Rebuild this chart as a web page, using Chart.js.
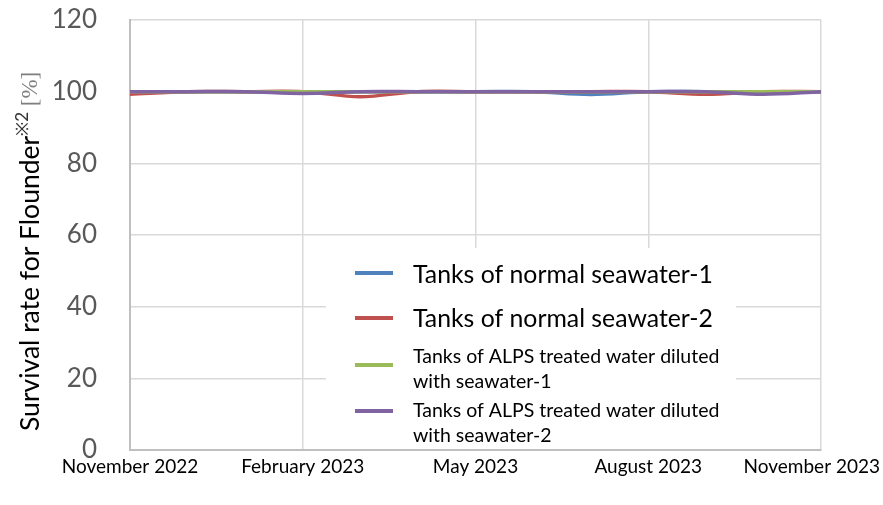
<!DOCTYPE html>
<html>
<head>
<meta charset="utf-8">
<script src="https://cdn.jsdelivr.net/npm/chart.js@4/dist/chart.umd.min.js"></script>
<style>
html,body{margin:0;padding:0;background:#fff;}
#wrap{position:relative;width:883px;height:505px;}
canvas{display:block;}
</style>
</head>
<body>
<div id="wrap"><canvas id="c" width="883" height="505"></canvas></div>
<script>
// Months since November 2022 (0 = Nov 2022 ... 12 = Nov 2023)
const months = [0,1,2,3,4,5,6,7,8,9,10,11,12];
const tickValues = [0,3,6,9,12];
const tickLabels = ['November 2022','February 2023','May 2023','August 2023','November 2023'];
const seriesNames = [
  'Tanks of normal seawater-1',
  'Tanks of normal seawater-2',
  'Tanks of ALPS treated water diluted with seawater-1',
  'Tanks of ALPS treated water diluted with seawater-2'
];
const normal1 = [100,100,100,100,100,100,100,100,99.2,100,100,100,100];
const normal2 = [99.3,100,100,100,98.6,100,100,100,100,100,99.3,100,100];
const alps1   = [100,100,100,100,100,100,100,100,100,100,100,100,100];
const alps2   = [100,100,100,99.5,100,100,100,100,100,100,100,99.3,100];
const yTitle = 'Survival rate for Flounder';
const yTitleSup = '※2';
const yTitleUnit = ' [%]';

const colors = ['#4f81bd','#c0504d','#9bbb59','#8064a2'];
const FONT = 'Lato, "Open Sans", sans-serif';

function pts(arr){ return months.map((m,i)=>({x:m,y:arr[i]})); }

const legendPlugin = {
  id:'customLegend',
  afterDraw(chart){
    const ctx = chart.ctx;
    ctx.save();
    // x-axis labels, positioned by the x scale, kept inside the canvas
    const xs = chart.scales.x;
    ctx.font = '19px ' + FONT;
    ctx.fillStyle = '#000000';
    ctx.textAlign = 'center';
    ctx.textBaseline = 'middle';
    tickValues.forEach((v,i)=>{
      const t = tickLabels[i];
      const w = ctx.measureText(t).width;
      let px = xs.getPixelForValue(v);
      px = Math.max(w/2 + 2, Math.min(chart.width - 3 - w/2, px));
      ctx.fillText(t, px, 467);
    });
    // legend box
    ctx.fillStyle = '#ffffff';
    ctx.fillRect(326, 248, 410, 201);
    const items = [
      {lines:[seriesNames[0]], size:24.8, lineY:273, textY:[275]},
      {lines:[seriesNames[1]], size:24.8, lineY:318, textY:[319]},
      {lines:['Tanks of ALPS treated water diluted','with seawater-1'], size:19.5, lineY:365, textY:[357,382]},
      {lines:['Tanks of ALPS treated water diluted','with seawater-2'], size:19.5, lineY:411, textY:[411,436]}
    ];
    items.forEach((it,i)=>{
      ctx.strokeStyle = colors[i];
      ctx.lineWidth = 4;
      ctx.lineCap = 'butt';
      ctx.beginPath();
      ctx.moveTo(355, it.lineY);
      ctx.lineTo(393, it.lineY);
      ctx.stroke();
      ctx.fillStyle = '#000000';
      ctx.font = it.size + 'px ' + FONT;
      ctx.textAlign = 'left';
      ctx.textBaseline = 'middle';
      it.lines.forEach((t,j)=>ctx.fillText(t, 413, it.textY[j]));
    });
    // y-axis title with superscript
    ctx.translate(30, 431);
    ctx.rotate(-Math.PI/2);
    ctx.textBaseline = 'middle';
    ctx.textAlign = 'left';
    ctx.fillStyle = '#000000';
    ctx.font = '26.5px ' + FONT;
    ctx.fillText(yTitle, 0, 0);
    let x = ctx.measureText(yTitle).width;
    ctx.font = '17px ' + FONT;
    ctx.fillStyle = '#333333';
    ctx.fillText(yTitleSup, x, -7);
    x += ctx.measureText(yTitleSup).width;
    ctx.font = '23px "Liberation Serif", serif';
    ctx.fillStyle = '#7f7f7f';
    ctx.fillText(yTitleUnit, x, 1);
    ctx.restore();
  }
};

function ds(label, arr, color, order){
  return {label, data:pts(arr), borderColor:color, backgroundColor:color,
    borderWidth:3.5, pointRadius:0, tension:0.35, order, fill:false};
}

new Chart(document.getElementById('c'), {
  type:'line',
  data:{
    datasets:[
      ds(seriesNames[0], normal1, colors[0], 4),
      ds(seriesNames[1], normal2, colors[1], 3),
      ds(seriesNames[2], alps1, colors[2], 2),
      ds(seriesNames[3], alps2, colors[3], 1)
    ]
  },
  options:{
    responsive:false,
    animation:false,
    devicePixelRatio:1,
    layout:{padding:{top:20,right:62,bottom:0,left:0}},
    plugins:{legend:{display:false}, tooltip:{enabled:false}},
    scales:{
      x:{
        type:'linear', min:0, max:12,
        grid:{color:'#d9d9d9', lineWidth:1.5, drawTicks:false},
        border:{display:true, color:'#bfbfbf', width:2},
        ticks:{display:false, stepSize:3},
        afterFit(s){ s.height = 55; s.paddingRight = 0; s.paddingLeft = 0; }
      },
      y:{
        min:0, max:120,
        grid:{color:'#d9d9d9', lineWidth:1.5, drawTicks:false},
        border:{display:true, color:'#bfbfbf', width:2},
        ticks:{stepSize:20, padding:33, color:'#595959',
          font:{family:FONT, size:26}},
        afterFit(s){ s.width = 130; s.paddingTop = 0; s.paddingBottom = 0; }
      }
    }
  },
  plugins:[legendPlugin]
});
</script>
</body>
</html>
